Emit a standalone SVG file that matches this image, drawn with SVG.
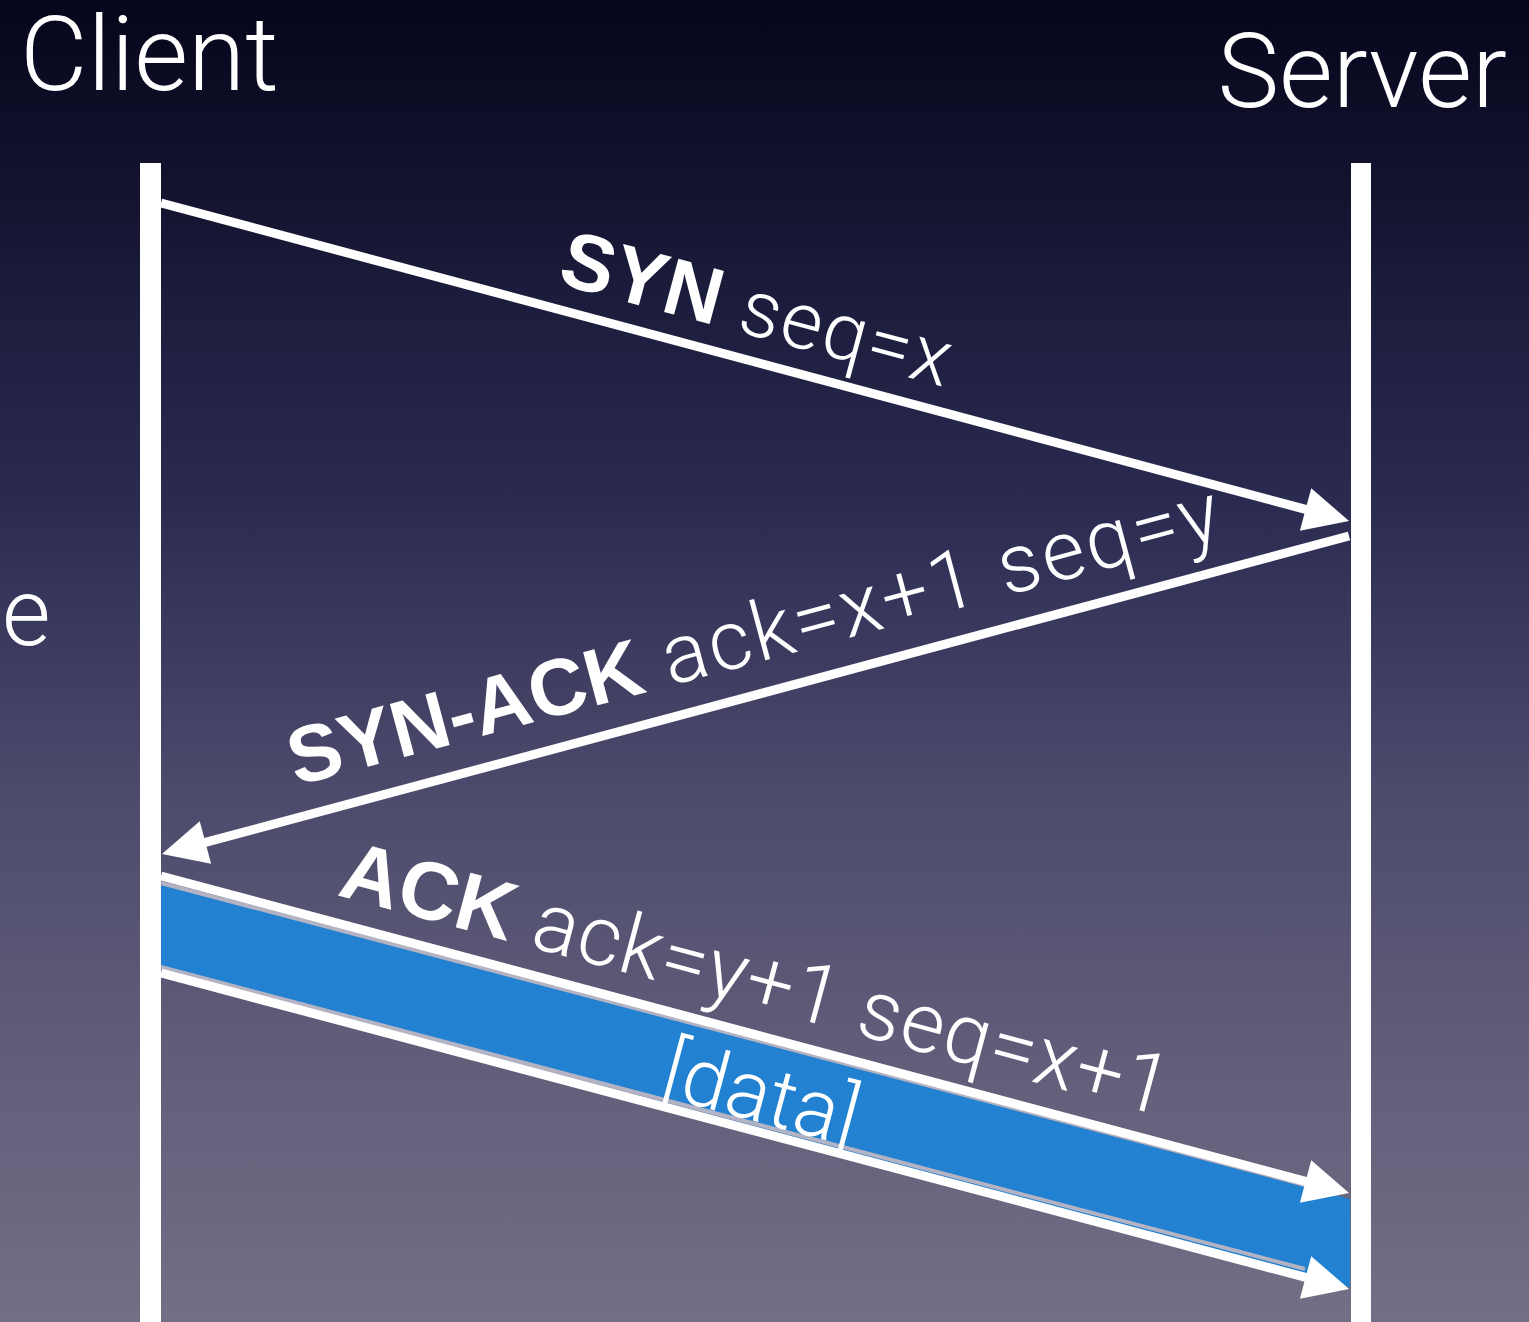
<svg xmlns="http://www.w3.org/2000/svg" width="1529" height="1322" viewBox="0 0 1529 1322">
  <defs>
    <linearGradient id="bg" x1="0" y1="0" x2="0" y2="1">
      <stop offset="0" stop-color="#05051b"/>
      <stop offset="0.38" stop-color="#2b2b52"/>
      <stop offset="0.6" stop-color="#4d4b6c"/>
      <stop offset="1" stop-color="#727086"/>
    </linearGradient>
    <marker id="ah" markerUnits="userSpaceOnUse" markerWidth="50" markerHeight="50" viewBox="-2 -25 50 50" refX="5" refY="0" orient="auto">
      <path d="M0,-22 L45,0 L0,22 Z" fill="#ffffff"/>
    </marker>
    <style>
      .light { font-family: Roboto, "Open Sans", "Liberation Sans", sans-serif; font-weight: 300; fill: #ffffff; }
      .bold { font-family: "Liberation Sans", Arial, sans-serif; font-weight: 700; fill: #ffffff; }
      .wide { letter-spacing: 2.5px; }
      .msg { stroke: #ffffff; stroke-width: 9; fill: none; marker-end: url(#ah); }
      .life { fill: #ffffff; }
      .edge { stroke: #b4b3c4; stroke-width: 4; fill: none; }
    </style>
  </defs>
  <rect x="0" y="0" width="1529" height="1322" fill="url(#bg)"/>

  <text class="light" x="2" y="645" font-size="94">e</text>

  <g id="client">
    <text class="light" x="20" y="90" font-size="104">Client</text>
    <rect class="life" x="140" y="163" width="21" height="1159"/>
  </g>
  <g id="server">
    <text class="light" x="1507" y="107" font-size="104" text-anchor="end">Server</text>
    <rect class="life" x="1351" y="163" width="20" height="1159"/>
  </g>

  <g id="data-band">
    <polygon points="161,884 1350,1199 1350,1287 161,966" fill="#2281d1"/>
    <line class="edge" x1="161" y1="883" x2="1305" y2="1185"/>
    <line class="edge" x1="161" y1="967" x2="1305" y2="1269"/>
  </g>

  <g id="connectors">
    <line class="msg" x1="161" y1="203" x2="1310.4" y2="510.7"/>
    <line class="msg" x1="1349" y1="536" x2="200.6" y2="843.7"/>
    <line class="msg" x1="161" y1="876" x2="1310.4" y2="1182.7"/>
    <line class="msg" x1="161" y1="973" x2="1310.4" y2="1278.7"/>
  </g>

  <g id="labels">
    <text font-size="80" transform="translate(556 283) rotate(15)"><tspan class="bold">SYN</tspan><tspan class="light" letter-spacing="1.5"> seq=x</tspan></text>
    <text font-size="80" transform="translate(296 786) rotate(-15)"><tspan class="bold">SYN-ACK</tspan><tspan class="light wide" font-size="83"> ack=x+1 seq=y</tspan></text>
    <text font-size="82" transform="translate(336 895) rotate(15)"><tspan class="bold">ACK</tspan><tspan class="light" font-size="84" letter-spacing="0.8"> ack=y+1 seq=x+1</tspan></text>
    <text class="light" font-size="82" text-anchor="middle" transform="translate(754 1121) rotate(15)">[data]</text>
  </g>
</svg>
